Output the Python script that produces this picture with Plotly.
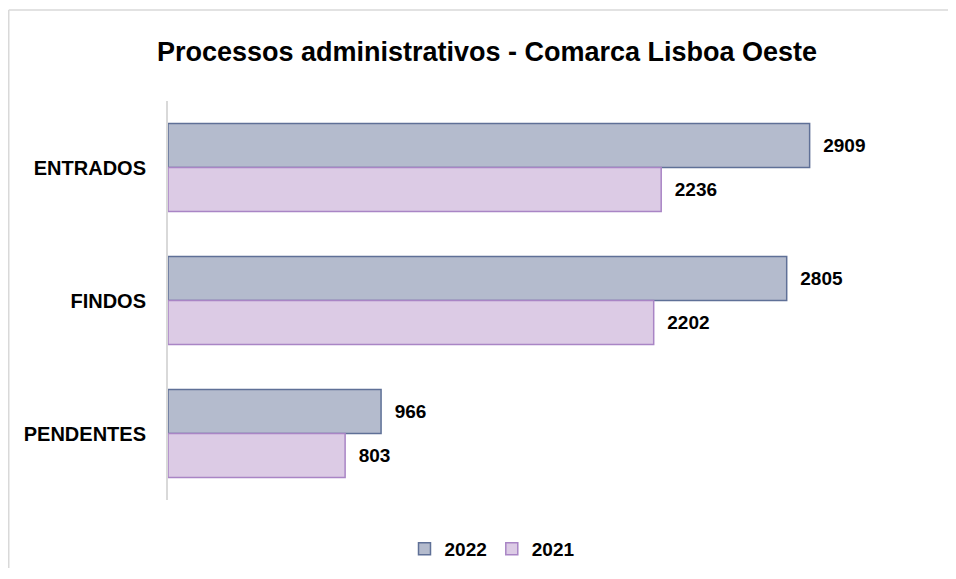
import plotly.graph_objects as go

categories = ["ENTRADOS", "FINDOS", "PENDENTES"]
values_2022 = [2909, 2805, 966]
values_2021 = [2236, 2202, 803]
series_names = ["2022", "2021"]

FONT = "Liberation Sans, Arial, sans-serif"

# figure sized to fit inside the window (page body has an 8px margin)
W, H = 940, 560
ml, mt = 160, 93
pr, pb = 932, 492
mr, mb = W - pr, H - pb
pw, ph = pr - ml, pb - mt

NB = "\u00a0\u00a0"

fig = go.Figure()
fig.add_trace(go.Bar(
    y=categories, x=values_2022, name=series_names[0], orientation="h",
    marker=dict(color="#b4bbcd", line=dict(color="#5f7097", width=1.5)),
    texttemplate=NB + "<b>%{x}</b>", textposition="outside",
    textfont=dict(family=FONT, size=19, color="black"),
    cliponaxis=False,
))
fig.add_trace(go.Bar(
    y=categories, x=values_2021, name=series_names[1], orientation="h",
    marker=dict(color="#dccbe5", line=dict(color="#a985c5", width=1.5)),
    texttemplate=NB + "<b>%{x}</b>", textposition="outside",
    textfont=dict(family=FONT, size=19, color="black"),
    cliponaxis=False,
))

px2paper_x = lambda px: (px - ml) / pw
px2paper_y = lambda py: (pb - py) / ph

# chart frame: only top and left edges are visible in the window
frame = dict(color="#d9d9d9", width=1.5)
fig.add_shape(type="line", xref="paper", yref="paper",
              x0=px2paper_x(0.75), x1=px2paper_x(W),
              y0=px2paper_y(2), y1=px2paper_y(2), line=frame, layer="below")
fig.add_shape(type="line", xref="paper", yref="paper",
              x0=px2paper_x(0.75), x1=px2paper_x(0.75),
              y0=px2paper_y(2), y1=px2paper_y(H), line=frame, layer="below")

fig.update_layout(
    width=W, height=H,
    margin=dict(l=ml, r=mr, t=mt, b=mb, pad=0),
    paper_bgcolor="white", plot_bgcolor="white",
    barmode="group", bargap=0.34, bargroupgap=0,
    title=dict(text="<b>Processos administrativos - Comarca Lisboa Oeste</b>",
               x=479 / W, xref="container", xanchor="center",
               y=1 - 44 / H, yref="container", yanchor="middle",
               font=dict(family=FONT, size=27, color="black")),
    xaxis=dict(range=[0, 3500], visible=False, showgrid=False, zeroline=False),
    yaxis=dict(autorange="reversed", showline=True, linecolor="#d9d9d9", linewidth=2,
               ticks="", ticklabelstandoff=16,
               tickfont=dict(family=FONT, size=20, color="black"),
               tickprefix="<b>", ticksuffix="</b>"),
    legend=dict(orientation="h", x=484 / W, xref="container", xanchor="center",
                y=1 - 541 / H, yref="container", yanchor="middle",
                font=dict(family=FONT, size=19, color="black", weight="bold"),
                itemwidth=30, traceorder="normal"),
    showlegend=True,
)

fig.write_html("out.html")
